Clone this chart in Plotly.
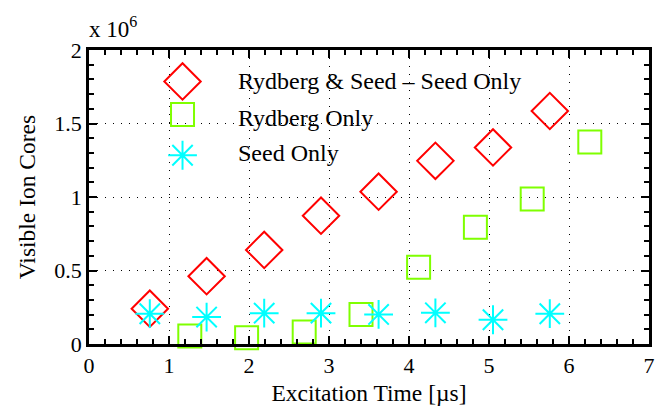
import plotly.graph_objects as go

# Data (y in units of 1e6)
x_rs = [0.76, 1.47, 2.19, 2.90, 3.62, 4.33, 5.05, 5.76]
y_rs = [0.240, 0.461, 0.640, 0.873, 1.036, 1.246, 1.337, 1.585]

x_ry = [1.26, 1.97, 2.69, 3.40, 4.12, 4.83, 5.54, 6.26]
y_ry = [0.054, 0.043, 0.081, 0.201, 0.522, 0.794, 0.986, 1.375]

x_sd = [0.76, 1.47, 2.19, 2.90, 3.62, 4.33, 5.05, 5.76]
y_sd = [0.206, 0.183, 0.210, 0.210, 0.201, 0.212, 0.165, 0.206]

names = ["Rydberg & Seed \u2013 Seed Only", "Rydberg Only", "Seed Only"]
colors = ["#FF0000", "#7FFF00", "#00FFFF"]
symbols = ["diamond-open", "square-open", "asterisk-open"]
sizes = [28, 23, 24]

x_ticks = [0, 1, 2, 3, 4, 5, 6, 7]
y_ticks = [0, 0.5, 1, 1.5, 2]
y_ticklabels = ["0", "0.5", "1", "1.5", "2"]

FONT = "Liberation Serif"

fig = go.Figure()
for xs, ys, nm, c, s, sz in zip([x_rs, x_ry, x_sd], [y_rs, y_ry, y_sd], names, colors, symbols, sizes):
    fig.add_trace(go.Scatter(
        x=xs, y=ys, mode="markers", name=nm, cliponaxis=False, showlegend=False,
        marker=dict(symbol=s, size=sz, color=c, line=dict(color=c, width=2)),
    ))

# custom legend (layout positions on an overlay axis)
leg_x = 0.167
leg_y = [0.893, 0.781, 0.642]
txt_y = [0.893, 0.768, 0.650]
for nm, c, s, sz, ly, ty in zip(names, colors, symbols, sizes, leg_y, txt_y):
    fig.add_trace(go.Scatter(
        x=[leg_x], y=[ly], mode="markers", xaxis="x2", yaxis="y2", showlegend=False,
        cliponaxis=False, hoverinfo="skip",
        marker=dict(symbol=s, size=sz, color=c, line=dict(color=c, width=2)),
    ))
    fig.add_annotation(text=nm, xref="paper", yref="paper", x=0.262, y=ty,
                       xanchor="left", yanchor="middle", showarrow=False,
                       font=dict(family=FONT, size=24, color="black"))

fig.add_annotation(text="x 10<sup>6</sup>", xref="paper", yref="paper", x=0.0, y=1.0,
                   xanchor="left", yanchor="bottom", showarrow=False, yshift=6, xshift=-2,
                   font=dict(family=FONT, size=23, color="black"))

axis_common = dict(
    showline=True, linecolor="black", linewidth=2.5, mirror="ticks",
    ticks="inside", ticklen=8, tickwidth=1.5, tickcolor="black",
    showgrid=True, gridcolor="black", gridwidth=1, griddash="1px,7px",
    zeroline=False, automargin=False,
    tickfont=dict(family=FONT, size=22, color="black"),
)

fig.update_layout(
    width=664, height=406,
    margin=dict(l=89, r=15, t=50, b=62),
    plot_bgcolor="white", paper_bgcolor="white",
    xaxis=dict(range=[0, 7], tickvals=x_ticks, ticktext=[str(v) for v in x_ticks],
               minor=dict(dtick=0.2, tick0=0, ticks="inside", ticklen=5, tickcolor="black",
                          tickwidth=1.5, showgrid=False),
               title=dict(text="Excitation Time [\u00b5s]", standoff=9,
                          font=dict(family=FONT, size=23.5, color="black")),
               **axis_common),
    yaxis=dict(range=[0, 2], tickvals=y_ticks, ticktext=y_ticklabels,
               minor=dict(dtick=0.1, tick0=0, ticks="inside", ticklen=5, tickcolor="black",
                          tickwidth=1.5, showgrid=False),
               title=dict(text="Visible Ion Cores", standoff=13,
                          font=dict(family=FONT, size=23.5, color="black")),
               **axis_common),
    xaxis2=dict(range=[0, 1], overlaying="x", visible=False, fixedrange=True),
    yaxis2=dict(range=[0, 1], overlaying="y", visible=False, fixedrange=True),
    showlegend=False,
)

fig.write_html("out.html")
